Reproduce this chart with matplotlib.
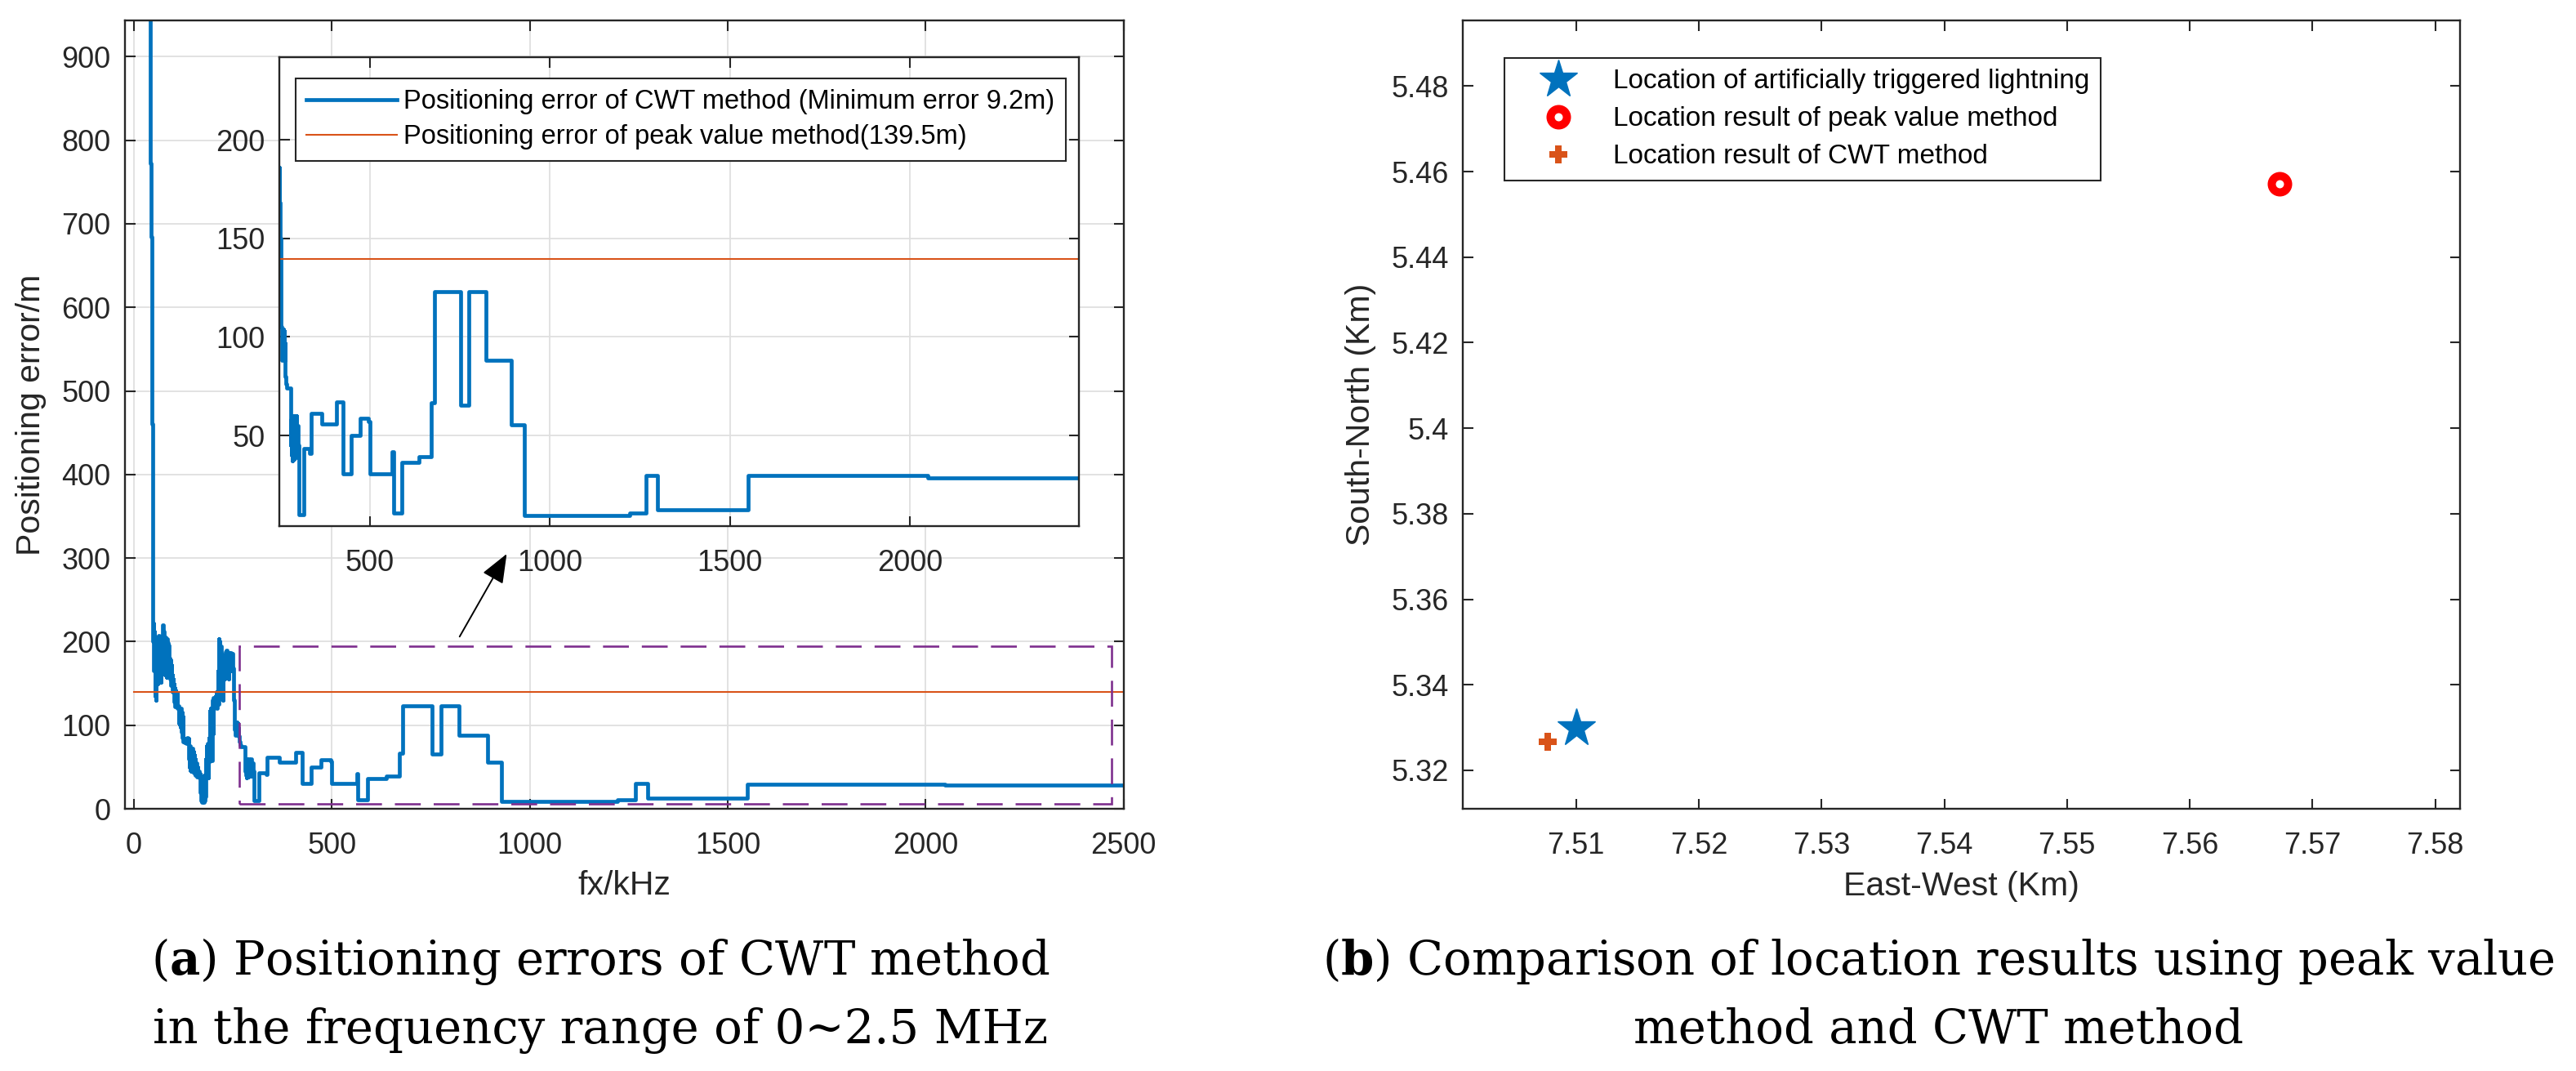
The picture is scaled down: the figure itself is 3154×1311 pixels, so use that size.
import matplotlib
matplotlib.use('Agg')
import matplotlib.pyplot as plt
from matplotlib.patches import Rectangle
from matplotlib.ticker import FuncFormatter

plt.rcParams['font.family'] = ['Liberation Sans', 'DejaVu Sans']
plt.rcParams['mathtext.fontset'] = 'dejavuserif'

# ---------------- data ----------------
# steep initial drop
fx_drop = [38, 40, 41, 42, 43, 44, 45, 46, 47]
err_drop = [1200, 1000, 900, 772, 700, 684, 560, 460, 330]

# noisy low-frequency part
fx_noisy = [48, 49, 50, 51, 52, 53, 54, 55, 56, 57, 58, 59, 60, 61, 62, 63, 64, 65, 66, 67,
            68, 69, 70, 71, 72, 73, 74, 75, 76, 77, 78, 79, 80, 81, 82, 83, 84, 85, 86, 87,
            88, 89, 90, 91, 92, 93, 94, 95, 96, 97, 98, 99, 100, 101, 102, 103, 104, 105, 106, 107,
            108, 109, 110, 112, 113, 114, 115, 116, 117, 118, 119, 120, 121, 122, 123, 124, 125, 126, 128, 130,
            132, 134, 136, 138, 139, 140, 141, 142, 143, 144, 145, 146, 147, 148, 150, 151, 152, 153, 155, 156,
            158, 159, 161, 162, 164, 165, 167, 168, 169, 170, 171, 172, 173, 174, 175, 176, 177, 178, 179, 180,
            181, 182, 183, 184, 185, 186, 187, 188, 189, 190, 191, 192, 193, 194, 195, 196, 197, 198, 199, 200,
            201, 202, 203, 204, 205, 206, 207, 208, 209, 210, 211, 212, 213, 214, 215, 216, 217, 218, 219, 220,
            221, 222, 223, 224, 225, 226, 227, 228, 229, 230, 231, 232, 233, 234, 235, 236, 237, 238, 239, 240,
            241, 242, 243, 244, 245, 246, 247, 248, 249, 250, 251, 252, 253, 254, 255, 256, 257, 258, 259, 260,
            261, 262, 263, 264, 265, 266, 268, 270, 280, 281, 282, 283, 284, 285, 286, 287, 288, 289, 290, 291,
            292, 293, 294, 295, 296, 297, 298, 299, 300, 301, 302]
err_noisy = [200, 222, 165, 212, 180, 135, 198, 150, 130, 190, 160, 205, 150, 200, 175, 207, 160, 195, 172, 200,
             152, 185, 165, 205, 180, 220, 190, 212, 165, 200, 160, 205, 175, 195, 157, 203, 170, 198, 168, 196,
             172, 190, 170, 180, 155, 178, 148, 172, 150, 160, 140, 155, 142, 150, 128, 145, 122, 142, 125, 140,
             122, 138, 120, 123, 103, 120, 101, 118, 98, 120, 96, 112, 92, 115, 85, 110, 80, 84, 79, 84,
             78, 85, 80, 84, 60, 50, 75, 46, 72, 45, 70, 47, 72, 44, 68, 48, 65, 42, 60, 40,
             55, 38, 50, 39, 45, 37, 42, 20, 40, 10, 35, 8, 38, 9, 30, 8, 40, 10, 38, 15,
             60, 40, 75, 38, 70, 45, 78, 37, 60, 85, 57, 117, 80, 120, 60, 112, 58, 100, 130, 90,
             133, 122, 128, 133, 122, 135, 125, 140, 120, 138, 130, 165, 125, 203, 160, 200, 132, 190, 150, 195,
             135, 185, 140, 180, 130, 176, 160, 170, 155, 175, 162, 188, 160, 190, 165, 187, 160, 186, 155, 187,
             165, 180, 170, 187, 168, 186, 165, 186, 175, 168, 163, 150, 130, 105, 95, 104, 88, 100, 92, 104,
             90, 103, 88, 97, 87, 80, 76, 74, 59, 45, 58, 40, 55, 37, 60, 42, 57, 38, 60, 45,
             59, 40, 56, 43, 60, 39, 52, 42, 55, 40, 45]

# stepped part (value holds from each frequency to the next)
fx_steps = [303.6, 316.4, 334, 336.8, 367, 408.6, 425.9, 448.6, 473.5, 497, 500, 563, 566,
            589.8, 637.3, 671.3, 678.9, 753.3, 776, 822, 894, 929.6, 1222.5, 1268, 1298,
            1550.5, 2049, 2500]
err_steps = [10, 43.5, 41, 61.3, 55.7, 67.2, 30.6, 50, 58.9, 57, 30.6, 41.6, 10.5,
             36.4, 39.1, 66.8, 123, 65.3, 123, 88.3, 55.5, 9.2, 10.5, 29.9, 12.5,
             29.6, 28.5, 28.5]

peak_error = 139.5
peak_span = [0, 2500]

main_xticks = [0, 500, 1000, 1500, 2000, 2500]
main_yticks = [0, 100, 200, 300, 400, 500, 600, 700, 800, 900]
inset_xticks = [500, 1000, 1500, 2000]
inset_yticks = [50, 100, 150, 200]

zoom_box_x = [266, 2470]
zoom_box_y = [5.5, 195]

cwt_label = 'Positioning error of CWT method (Minimum error 9.2m)'
peak_label = 'Positioning error of peak value method(139.5m)'

# right panel
lightning_x, lightning_y = [7.51], [5.33]
peakloc_x, peakloc_y = [7.5673], [5.4572]
cwtloc_x, cwtloc_y = [7.5077], [5.3266]
right_xticks = [7.51, 7.52, 7.53, 7.54, 7.55, 7.56, 7.57, 7.58]
right_yticks = [5.32, 5.34, 5.36, 5.38, 5.40, 5.42, 5.44, 5.46, 5.48]

fx = fx_drop + fx_noisy + fx_steps
err = err_drop + err_noisy + err_steps

# ---------------- figure ----------------
W, H = 3154, 1311
fig = plt.figure(figsize=(W / 100, H / 100), dpi=100)


def px_axes(l, t, r, b):
    return fig.add_axes([l / W, 1 - b / H, (r - l) / W, (b - t) / H])


AX_COL = '#262626'
BLUE = '#0072BD'
ORANGE = '#D95319'


def style(a, grid=True):
    for s in a.spines.values():
        s.set_color(AX_COL)
        s.set_linewidth(1.7)
    a.tick_params(direction='in', length=9, width=1.5, colors=AX_COL,
                  labelsize=26, top=True, right=True)
    a.tick_params(axis='x', pad=20)
    a.tick_params(axis='y', pad=12.5)
    if grid:
        a.grid(True, color='#dfdfdf', lw=1.3)
        a.set_axisbelow(True)


ax = px_axes(152.7, 25.4, 1375.6, 990)
axin = px_axes(341.5, 70, 1321.5, 644)
axr = px_axes(1791.4, 25.3, 3011.7, 990)

# main panel
ax.plot(fx, err, drawstyle='steps-post', color=BLUE, lw=3.4)
ax.plot(peak_span, [peak_error, peak_error], color=ORANGE, lw=1.5)
ax.add_patch(Rectangle((zoom_box_x[0], zoom_box_y[0]), zoom_box_x[1] - zoom_box_x[0],
                       zoom_box_y[1] - zoom_box_y[0], fill=False, edgecolor='#7E2F8E',
                       lw=1.9, linestyle=(0, (12, 6)), zorder=5))
ax.set_xlim(-23, 2500)
ax.set_ylim(0, 943)
ax.set_xticks(main_xticks)
ax.set_yticks(main_yticks)
style(ax)
ax.set_xlabel('fx/kHz', fontsize=29.5, color=AX_COL)
ax.set_ylabel('Positioning error/m', fontsize=29.5, color=AX_COL)
ax.xaxis.set_label_coords(0.5, (990 - 1084) / 964.6)
ax.xaxis.label.set_va('center')
ax.yaxis.set_label_coords((38 - 152.7) / 1222.9, 0.5)
ax.yaxis.label.set_va('center')
ax.annotate('', xy=(942, 305), xytext=(823, 206),
            arrowprops=dict(arrowstyle='-|>,head_length=0.55,head_width=0.22',
                            mutation_scale=40, color='black', lw=1.4, shrinkA=0, shrinkB=0))

# inset
l1, = axin.plot(fx, err, drawstyle='steps-post', color=BLUE, lw=3.4)
l2, = axin.plot(peak_span, [peak_error, peak_error], color=ORANGE, lw=1.5)
axin.set_xlim(248, 2470)
axin.set_ylim(4, 242)
axin.set_xticks(inset_xticks)
axin.set_yticks(inset_yticks)
style(axin)
leg = axin.legend([l1, l2], [cwt_label, peak_label], loc='upper left',
                  bbox_to_anchor=(361.6 / W, 1 - 95.7 / H), bbox_transform=fig.transFigure,
                  borderaxespad=0, fontsize=23.5, fancybox=False, edgecolor=AX_COL,
                  handlelength=3.38, handletextpad=0.27, borderpad=0.42, labelspacing=0.36,
                  framealpha=1)
leg.get_frame().set_linewidth(1.5)

# right panel
axr.plot(lightning_x, lightning_y, ls='none', marker='*', ms=35, color=BLUE, mew=1,
         label='Location of artificially triggered lightning')
axr.plot(peakloc_x, peakloc_y, ls='none', marker='o', ms=14.4, mfc='white', mec='#FF0000',
         mew=7.2, label='Location result of peak value method')
axr.plot(cwtloc_x, cwtloc_y, ls='none', marker='P', ms=16, color=ORANGE, mew=0,
         label='Location result of CWT method')
axr.set_xlim(7.5008, 7.582)
axr.set_ylim(5.311, 5.4953)
axr.set_xticks(right_xticks)
axr.set_yticks(right_yticks)
fmt = FuncFormatter(lambda v, p: '%g' % round(v, 4))
axr.xaxis.set_major_formatter(fmt)
axr.yaxis.set_major_formatter(fmt)
style(axr, grid=False)
axr.set_xlabel('East-West (Km)', fontsize=29.5, color=AX_COL)
axr.set_ylabel('South-North (Km)', fontsize=29.5, color=AX_COL)
axr.xaxis.set_label_coords(0.5, (990 - 1085) / 964.7)
axr.xaxis.label.set_va('center')
axr.yaxis.set_label_coords((1665.6 - 1791.4) / 1220.3, 0.5)
axr.yaxis.label.set_va('center')
legr = axr.legend(loc='upper left', bbox_to_anchor=(1841.5 / W, 1 - 70.9 / H),
                  bbox_transform=fig.transFigure, borderaxespad=0, fontsize=24,
                  fancybox=False, edgecolor=AX_COL, handlelength=3.2, handletextpad=0.4,
                  borderpad=0.4, labelspacing=0.45, numpoints=1, framealpha=1)
legr.get_frame().set_linewidth(1.5)

# captions
cap_kw = dict(family='DejaVu Serif', fontsize=41.5, ha='center', va='center', color='black')
fig.text(735 / W, 1 - 1177 / H, r'($\mathbf{a}$) Positioning errors of CWT method', **cap_kw)
fig.text(735 / W, 1 - 1261 / H, 'in the frequency range of 0~2.5 MHz', **cap_kw)
fig.text(2374 / W, 1 - 1177 / H, r'($\mathbf{b}$) Comparison of location results using peak value', **cap_kw)
fig.text(2374 / W, 1 - 1261 / H, 'method and CWT method', **cap_kw)

fig.savefig('out.png', dpi=100)
